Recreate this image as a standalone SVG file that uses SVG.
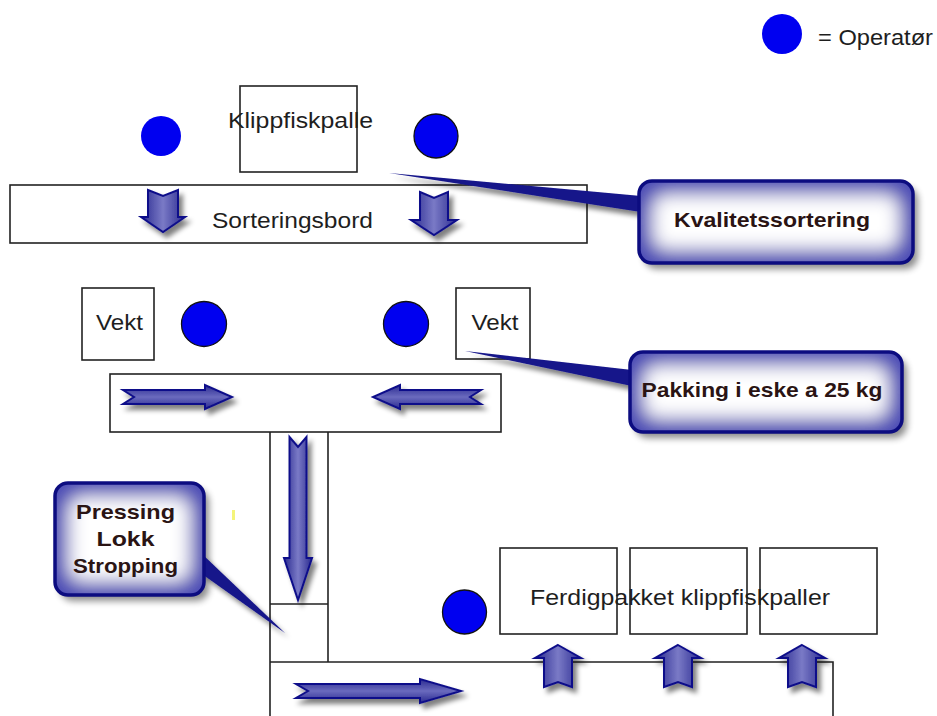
<svg xmlns="http://www.w3.org/2000/svg" width="937" height="716" viewBox="0 0 937 716">
<defs>
<style>
.box{fill:#fff;stroke:#222;stroke-width:1.6}
.ln{fill:none;stroke:#222;stroke-width:1.6}
.t{font-family:"Liberation Sans",Arial,sans-serif;font-size:22px;fill:#1e1e1e}
.ct{font-family:"Liberation Sans",Arial,sans-serif;font-size:21px;font-weight:bold;fill:#2a1414}
.op{fill:#0000f0}
.opo{fill:#0000f0;stroke:#111;stroke-width:1.3}
.arV{fill:url(#gV);stroke:#10108a;stroke-width:2;filter:url(#ds)}
.arH{fill:url(#gH);stroke:#10108a;stroke-width:2;filter:url(#ds)}
.cfill{fill:#4e4eb6;filter:url(#ig)}
.cline{fill:none;stroke:#0c0c80;stroke-width:3.5}
.csh{fill:#000;opacity:0.45;filter:url(#bl)}
.ptr{fill:#14148a;filter:url(#ds)}
</style>
<linearGradient id="gV" x1="0" y1="0" x2="1" y2="0">
<stop offset="0" stop-color="#2a2a90"/><stop offset="0.5" stop-color="#7a7ac6"/><stop offset="1" stop-color="#2a2a90"/>
</linearGradient>
<linearGradient id="gH" x1="0" y1="0" x2="0" y2="1">
<stop offset="0" stop-color="#2a2a90"/><stop offset="0.5" stop-color="#6a6abe"/><stop offset="1" stop-color="#2a2a90"/>
</linearGradient>
<filter id="ds" x="-30%" y="-30%" width="170%" height="170%">
<feGaussianBlur in="SourceAlpha" stdDeviation="2.5"/>
<feOffset dx="4" dy="5" result="o"/>
<feComponentTransfer in="o" result="s"><feFuncA type="linear" slope="0.5"/></feComponentTransfer>
<feMerge><feMergeNode in="s"/><feMergeNode in="SourceGraphic"/></feMerge>
</filter>
<filter id="bl" x="-20%" y="-20%" width="140%" height="140%">
<feGaussianBlur stdDeviation="3.5"/>
</filter>
<filter id="ig" x="0" y="0" width="100%" height="100%">
<feMorphology in="SourceAlpha" operator="erode" radius="14" result="e"/>
<feGaussianBlur in="e" stdDeviation="9" result="b"/>
<feFlood flood-color="#ffffff"/>
<feComposite in2="b" operator="in" result="w"/>
<feComposite in="w" in2="SourceAlpha" operator="in" result="w2"/>
<feMerge><feMergeNode in="SourceGraphic"/><feMergeNode in="w2"/></feMerge>
</filter>
</defs>
<rect width="937" height="716" fill="#fff"/>

<g id="legend">
<circle class="op" cx="782" cy="34" r="20"/>
<text class="t" x="818" y="45" textLength="115" lengthAdjust="spacingAndGlyphs">= Operatør</text>
</g>

<g id="klippfiskpalle">
<rect class="box" x="240" y="86" width="117" height="86"/>
<text class="t" x="300.5" y="128" text-anchor="middle" textLength="145" lengthAdjust="spacingAndGlyphs">Klippfiskpalle</text>
</g>
<g id="op-top-left"><circle class="op" cx="161" cy="136" r="20"/></g>
<g id="op-top-right"><circle class="opo" cx="436" cy="136" r="22"/></g>

<g id="sorteringsbord">
<rect class="box" x="10" y="185" width="577" height="58"/>
<text class="t" x="292.5" y="228" text-anchor="middle" textLength="161" lengthAdjust="spacingAndGlyphs">Sorteringsbord</text>
</g>

<g id="vekt-left">
<rect class="box" x="82" y="288" width="72" height="72"/>
<text class="t" x="119.5" y="330" text-anchor="middle" textLength="47" lengthAdjust="spacingAndGlyphs">Vekt</text>
</g>
<g id="vekt-right">
<rect class="box" x="456" y="288" width="74" height="71"/>
<text class="t" x="495" y="330" text-anchor="middle" textLength="47" lengthAdjust="spacingAndGlyphs">Vekt</text>
</g>
<g id="op-vekt-left"><circle class="opo" cx="204" cy="324" r="22.5"/></g>
<g id="op-vekt-right"><circle class="opo" cx="406" cy="324" r="22.5"/></g>

<g id="pakkebord">
<rect class="box" x="110" y="374" width="391" height="58"/>
</g>

<g id="transport">
<path class="ln" d="M270,432 V716 M328,432 V662 M270,604 H328 M270,662 H833 V716"/>
</g>

<g id="ferdigpakket">
<rect class="box" x="500" y="548" width="117" height="86"/>
<rect class="box" x="630" y="548" width="117" height="86"/>
<rect class="box" x="760" y="548" width="117" height="86"/>
<text class="t" x="680" y="605" text-anchor="middle" textLength="300" lengthAdjust="spacingAndGlyphs">Ferdigpakket klippfiskpaller</text>
</g>
<g id="op-bottom"><circle class="opo" cx="464.5" cy="612" r="22"/></g>

<g id="flow-arrows">
<path class="arV" d="M148,190 L163,196 L178,190 L178,217 L185,217 L163,232 L141,217 L148,217 Z"/>
<path class="arV" d="M420,192 L434,198 L448,192 L448,220 L457,220 L434,235 L411,220 L420,220 Z"/>
<path class="arH" d="M123,390 L205,390 L205,385 L232,397 L205,409 L205,404 L123,404 L134,397 Z"/>
<path class="arH" d="M481,390 L400,390 L400,385 L373,397 L400,409 L400,404 L481,404 L470,397 Z"/>
<path class="arV" d="M289.5,437 L298,447 L306.5,437 L306.5,558 L312,558 L298,600 L284,558 L289.5,558 Z"/>
<path class="arH" d="M296,684 L420,684 L420,679 L461,691 L420,703 L420,698 L296,698 L308,691 Z"/>
<path class="arV" d="M558,645 L581,658 L572,658 L572,687 L558,682 L544,687 L544,658 L535,658 Z"/>
<path class="arV" d="M678,645 L701,658 L692,658 L692,687 L678,682 L664,687 L664,658 L655,658 Z"/>
<path class="arV" d="M802,645 L825,658 L816,658 L816,687 L802,682 L788,687 L788,658 L779,658 Z"/>
</g>

<rect x="232" y="510" width="3" height="10" fill="#f4f47a"/>

<g id="callout-kvalitet">
<rect class="csh" x="644" y="187" width="274" height="82" rx="13"/>
<polygon class="ptr" points="389,173 641,196 641,212"/>
<rect class="cfill" x="639" y="181" width="274" height="82" rx="13"/>
<rect class="cline" x="639" y="181" width="274" height="82" rx="13"/>
<text class="ct" x="772" y="227" text-anchor="middle" textLength="196" lengthAdjust="spacingAndGlyphs">Kvalitetssortering</text>
</g>

<g id="callout-pakking">
<rect class="csh" x="635" y="358" width="272" height="80" rx="13"/>
<polygon class="ptr" points="465,351 632,370 632,386"/>
<rect class="cfill" x="630" y="352" width="272" height="80" rx="13"/>
<rect class="cline" x="630" y="352" width="272" height="80" rx="13"/>
<text class="ct" x="762" y="397" text-anchor="middle" textLength="241" lengthAdjust="spacingAndGlyphs">Pakking i eske a 25 kg</text>
</g>

<g id="callout-pressing">
<rect class="csh" x="60" y="489" width="149" height="112" rx="13"/>
<polygon class="ptr" points="285,633 202,554 202,574"/>
<rect class="cfill" x="55" y="483" width="149" height="112" rx="13"/>
<rect class="cline" x="55" y="483" width="149" height="112" rx="13"/>
<text class="ct" x="125.5" y="519" text-anchor="middle" textLength="99" lengthAdjust="spacingAndGlyphs">Pressing</text>
<text class="ct" x="125.5" y="546" text-anchor="middle" textLength="58" lengthAdjust="spacingAndGlyphs">Lokk</text>
<text class="ct" x="125.5" y="573" text-anchor="middle" textLength="105" lengthAdjust="spacingAndGlyphs">Stropping</text>
</g>
</svg>
